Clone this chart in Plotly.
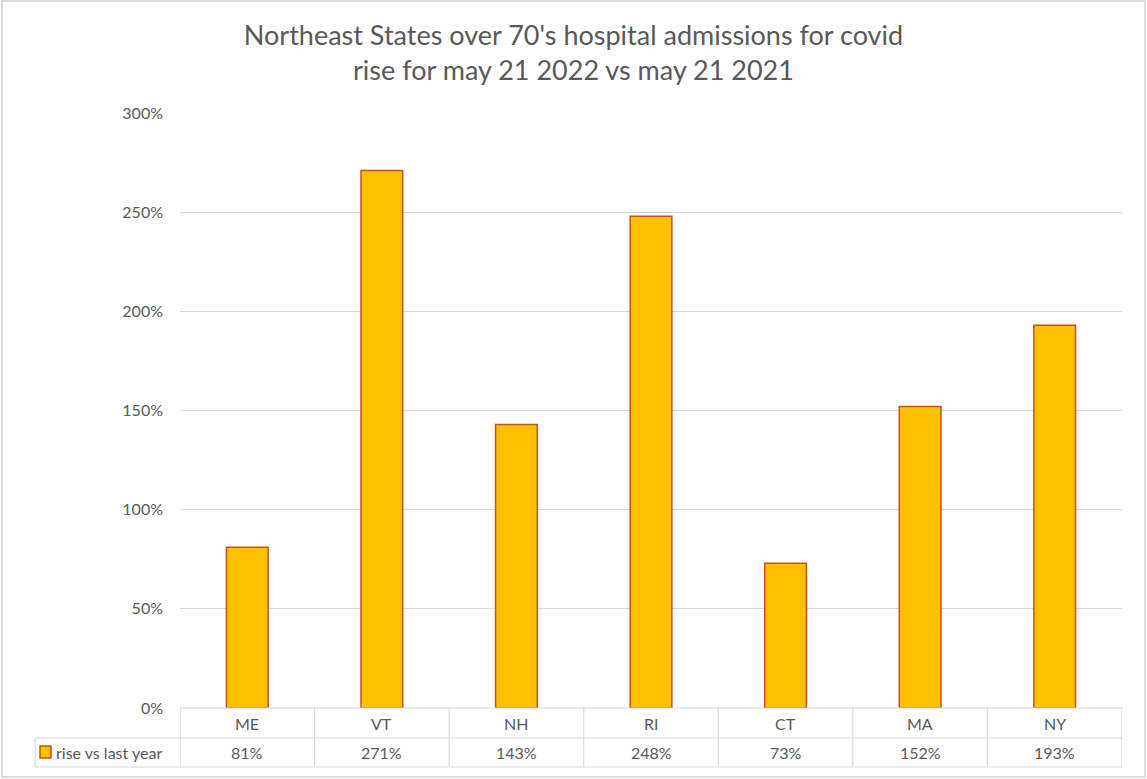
import plotly.graph_objects as go

states = ["ME", "VT", "NH", "RI", "CT", "MA", "NY"]
rise = [0.81, 2.71, 1.43, 2.48, 0.73, 1.52, 1.93]
rise_labels = ["81%", "271%", "143%", "248%", "73%", "152%", "193%"]
series_name = "rise vs last year"
y_ticks = [0, 0.5, 1.0, 1.5, 2.0, 2.5, 3.0]
y_tick_text = ["0%", "50%", "100%", "150%", "200%", "250%", "300%"]

txt = "#595959"
grid = "#D9D9D9"
fill = "#FFC000"
edge = "#C9501C"
font = "Lato"

fig = go.Figure(go.Bar(
    x=list(range(len(states))),
    y=rise,
    width=0.31,
    marker=dict(color=fill, line=dict(color=edge, width=1.5)),
    name=series_name,
    hovertext=states,
))

def pline(x0, x1, y0, y1, xref="x"):
    d = dict(type="line", xref=xref, yref="paper", ysizemode="pixel", yanchor=0,
             x0=x0, x1=x1, y0=y0, y1=y1, line=dict(color=grid, width=1.2))
    if xref == "paper":
        d.update(xsizemode="pixel", xanchor=0)
    return d

n = len(states)
shapes = [pline(-0.5, n - 0.5, 0, 0)]
for yy in [-30, -59]:
    shapes.append(pline(-0.5, n - 0.5, yy, yy))
    shapes.append(pline(-145, 0, yy, yy, xref="paper"))
for i in range(n + 1):
    shapes.append(pline(i - 0.5, i - 0.5, 0, -59))
shapes.append(pline(-145, -145, -30, -59, xref="paper"))
# legend key
shapes.append(dict(type="rect", xref="paper", yref="paper", xsizemode="pixel", xanchor=0,
                   ysizemode="pixel", yanchor=0, x0=-140, x1=-129, y0=-38, y1=-50,
                   fillcolor=fill, line=dict(color=edge, width=1.5)))
# outer chart border
shapes.append(dict(type="rect", xref="paper", yref="paper",
                   x0=-0.1890, x1=1.0244, y0=-0.1160, y1=1.1882,
                   line=dict(color="#D0D0D0", width=1.5)))

annotations = []
for i, (s, lab) in enumerate(zip(states, rise_labels)):
    annotations.append(dict(x=i, y=0, xref="x", yref="paper", text=s, showarrow=False,
                            yanchor="middle", yshift=-15,
                            font=dict(size=16, color=txt, family=font)))
    annotations.append(dict(x=i, y=0, xref="x", yref="paper", text=lab, showarrow=False,
                            yanchor="middle", yshift=-44,
                            font=dict(size=16, color=txt, family=font)))
annotations.append(dict(x=0, y=0, xref="paper", yref="paper", text=series_name,
                        showarrow=False, xanchor="left", yanchor="middle", xshift=-126,
                        yshift=-44, font=dict(size=16, color=txt, family=font)))

fig.update_layout(
    width=1147, height=779,
    margin=dict(l=180, r=25, t=113, b=71),
    paper_bgcolor="white", plot_bgcolor="white",
    showlegend=False,
    title=dict(text="Northeast States over 70's hospital admissions for covid<br>rise for may 21 2022 vs may 21 2021",
               x=0.5, xanchor="center", y=0.9425, yanchor="middle",
               font=dict(size=27, color=txt, family=font)),
    xaxis=dict(range=[-0.5, n - 0.5], showticklabels=False, showgrid=False,
               zeroline=False, showline=False, fixedrange=True),
    yaxis=dict(range=[0, 3], tickvals=y_ticks, ticktext=y_tick_text, showgrid=True,
               gridcolor=grid, gridwidth=1.2, zeroline=False, showline=False,
               ticklabelstandoff=16, tickfont=dict(size=16, color=txt, family=font)),
    shapes=shapes,
    annotations=annotations,
    font=dict(family=font, color=txt),
)

fig.write_html("out.html", config={"displayModeBar": False},
               post_script="document.body.style.margin='0';")
